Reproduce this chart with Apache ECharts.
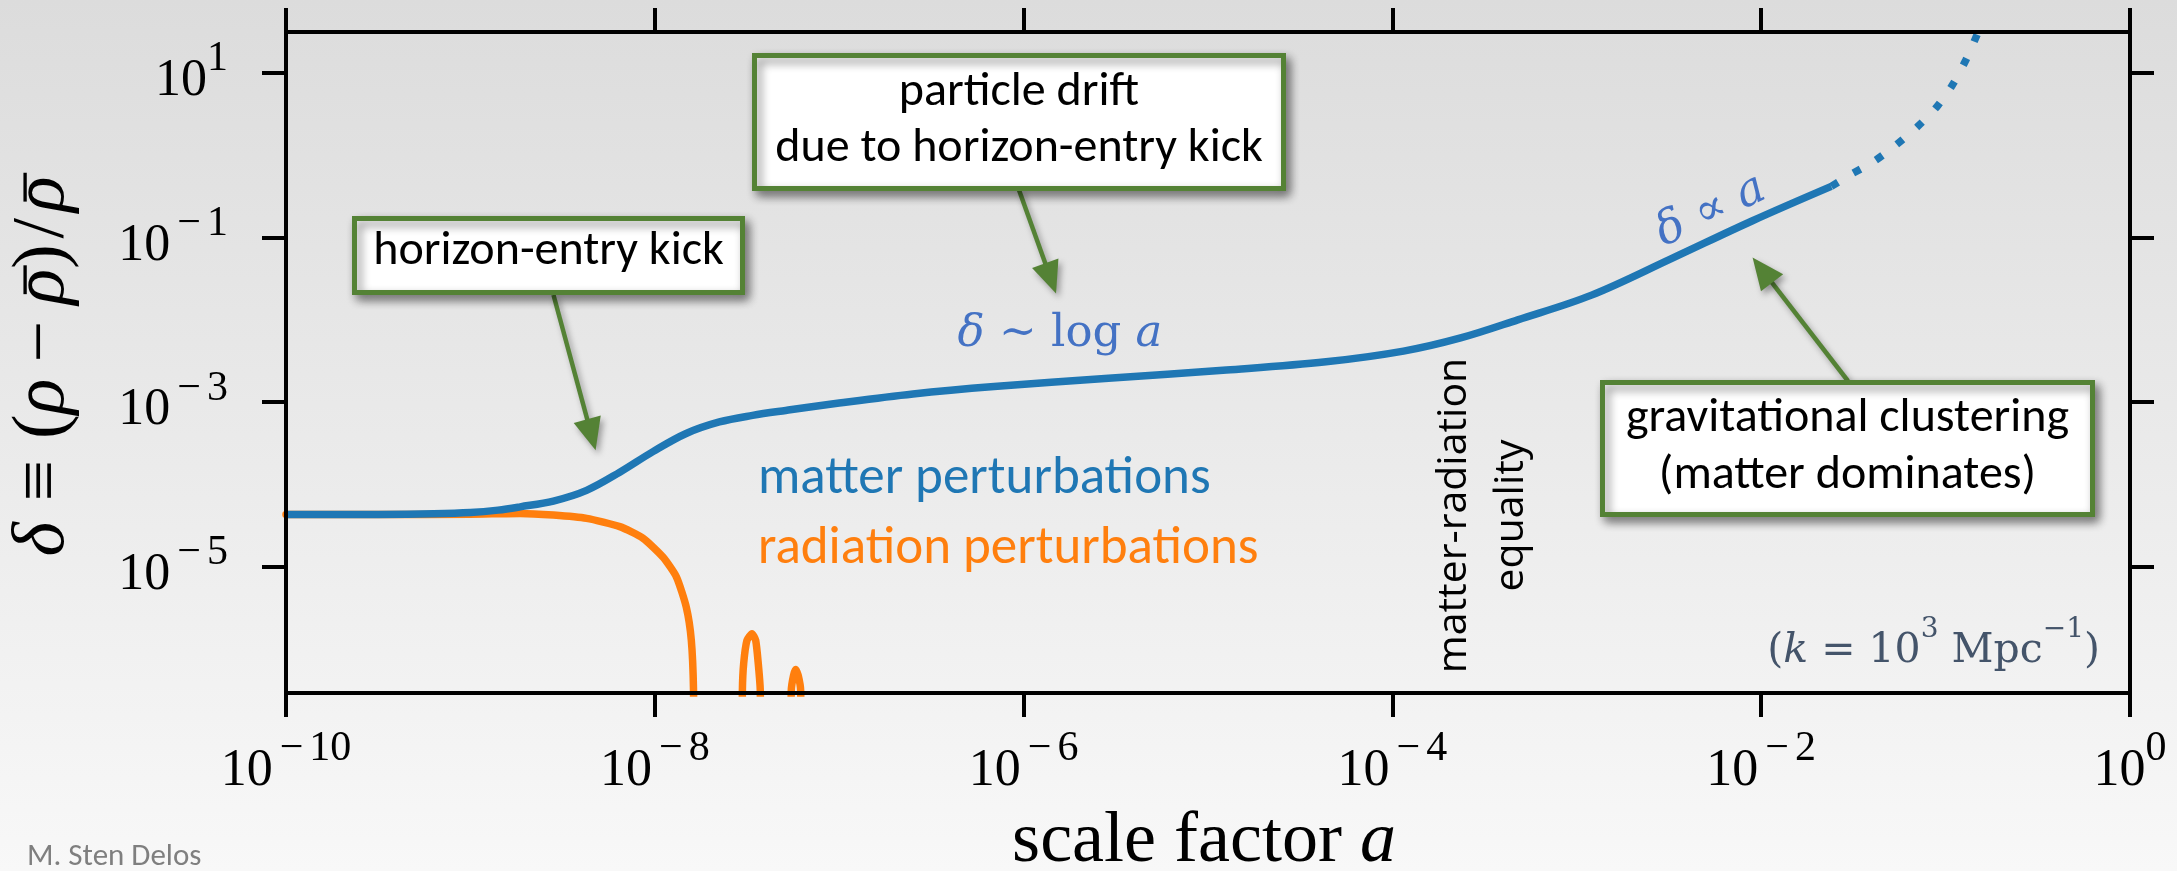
<!DOCTYPE html>
<html>
<head>
<meta charset="utf-8">
<script src="https://cdn.jsdelivr.net/npm/echarts@6/dist/echarts.min.js"></script>
<style>
  html, body { margin: 0; padding: 0; background: #e9e9e9; }
  #chart { width: 2177px; height: 871px; }
</style>
</head>
<body>
<div id="chart"></div>
<script>
// Density contrast of a single Fourier mode (k = 10^3 Mpc^-1) versus scale factor.
// Values are stored as base-10 exponents: log10(a) and log10(delta).

// matter perturbation, computed part (solid)
const matterLogA = [-10.0, -9.5, -9.2, -9.0, -8.85, -8.73, -8.55, -8.37, -8.19, -8.01, -7.83, -7.65,
  -7.47, -7.29, -7.0, -6.6, -6.16, -5.54, -4.9, -4.36, -3.94, -3.63, -3.32, -2.92, -2.49, -2.05, -1.62];
const matterLogDelta = [-4.363, -4.362, -4.355, -4.34, -4.31, -4.27, -4.20, -4.07, -3.85, -3.60, -3.38, -3.24,
  -3.16, -3.10, -3.01, -2.90, -2.81, -2.71, -2.61, -2.51, -2.38, -2.22, -2.00, -1.70, -1.26, -0.80, -0.38];

// matter perturbation, continued growth (dotted)
const matterLateLogA = [-1.62, -1.519, -1.392, -1.269, -1.153, -1.047, -0.963, -0.890, -0.830, -0.815];
const matterLateLogDelta = [-0.38, -0.242, -0.081, 0.122, 0.344, 0.587, 0.851, 1.154, 1.458, 1.55];

// radiation perturbation (only positive excursions are visible on the log axis)
const radiationLogA = [-10.0, -9.5, -9.0, -8.73, -8.55, -8.37, -8.19, -8.065, -7.956, -7.883, -7.829, -7.802, -7.79, -7.785,
  -7.53, -7.525, -7.518, -7.50, -7.473, -7.453, -7.439, -7.428, -7.423,
  -7.265, -7.26, -7.248, -7.236, -7.222, -7.209, -7.204];
const radiationLogDelta = [-4.363, -4.363, -4.36, -4.35, -4.37, -4.41, -4.51, -4.65, -4.88, -5.12, -5.49, -5.89, -6.5, -8,
  -8, -6.5, -6.17, -5.89, -5.81, -5.89, -6.17, -6.5, -8,
  -8, -6.5, -6.32, -6.245, -6.32, -6.5, -8];

// axes
const xTickExponents = [-10, -8, -6, -4, -2, 0];
const yTickExponents = [1, -1, -3, -5];
const xRangeExponents = [-10, 0];
const yRangeExponents = [-6.53, 1.494];

// annotation targets, in data exponents [log10 a, log10 delta]
const kickArrowTip = [-8.321, -3.582];
const driftArrowTip = [-5.824, -1.679];
const clusteringArrowTip = [-2.047, -1.242];

const pow10 = (e) => Math.pow(10, e);
const pairs = (xs, ys) => xs.map((x, i) => [pow10(x), pow10(ys[i])]);

const SERIF = '"Liberation Serif", "DejaVu Serif", serif';
const MATHFONT = '"DejaVu Serif", "Liberation Serif", serif';
const SANS = 'Carlito, Calibri, Lato, "Open Sans", sans-serif';
const GREEN = '#548235';
const BLUE = '#1f77b4';
const ORANGE = '#ff7f0e';
const MATH_BLUE = '#4472c4';
const CURVE_WIDTH = 7.5;

const tickRich = {
  b: { fontFamily: SERIF, fontSize: 52, color: '#000', lineHeight: 69, verticalAlign: 'bottom' },
  m: { fontFamily: SERIF, fontSize: 42, color: '#000', lineHeight: 40, verticalAlign: 'top', padding: [0, 6, 0, 7] },
  s: { fontFamily: SERIF, fontSize: 42, color: '#000', lineHeight: 40, verticalAlign: 'top' }
};
function powerLabel(value) {
  const e = Math.round(Math.log10(value));
  return '{b|10}' + (e < 0 ? '{m|\u2212}' : '') + '{s|' + Math.abs(e) + '}';
}

const frameLine = { show: true, onZero: false, lineStyle: { color: '#000', width: 4 } };
const frameTick = (vals) => ({ show: true, inside: false, length: 24, customValues: vals,
  lineStyle: { color: '#000', width: 4 } });

const xTicks = xTickExponents.map(pow10);
const yTicks = yTickExponents.map(pow10);

const chart = echarts.init(document.getElementById('chart'), null, { width: 2177, height: 871 });

const option = {
  animation: false,
  backgroundColor: {
    type: 'linear', x: 0, y: 0, x2: 0, y2: 1,
    colorStops: [{ offset: 0, color: '#dcdcdc' }, { offset: 1, color: '#f8f8f8' }]
  },
  grid: { left: 286, right: 47, top: 32, bottom: 178, containLabel: false },
  xAxis: [
    {
      type: 'log', logBase: 10, position: 'bottom', z: 10,
      min: pow10(xRangeExponents[0]), max: pow10(xRangeExponents[1]),
      axisLine: frameLine, axisTick: frameTick(xTicks),
      minorTick: { show: false }, splitLine: { show: false },
      axisLabel: { customValues: xTicks, margin: 35, formatter: powerLabel, rich: tickRich }
    },
    {
      type: 'log', logBase: 10, position: 'top', z: 10,
      min: pow10(xRangeExponents[0]), max: pow10(xRangeExponents[1]),
      axisLine: frameLine, axisTick: frameTick(xTicks),
      minorTick: { show: false }, splitLine: { show: false }, axisLabel: { show: false }
    }
  ],
  yAxis: [
    {
      type: 'log', logBase: 10, position: 'left', z: 10,
      min: pow10(yRangeExponents[0]), max: pow10(yRangeExponents[1]),
      axisLine: frameLine, axisTick: frameTick(yTicks),
      minorTick: { show: false }, splitLine: { show: false },
      axisLabel: { customValues: yTicks, margin: 58, formatter: powerLabel, rich: tickRich }
    },
    {
      type: 'log', logBase: 10, position: 'right', z: 10,
      min: pow10(yRangeExponents[0]), max: pow10(yRangeExponents[1]),
      axisLine: frameLine, axisTick: frameTick(yTicks),
      minorTick: { show: false }, splitLine: { show: false }, axisLabel: { show: false }
    }
  ],
  series: [
    {
      name: 'radiation perturbations', type: 'line', xAxisIndex: 0, yAxisIndex: 0,
      data: pairs(radiationLogA, radiationLogDelta),
      showSymbol: false, smooth: 0.2, clip: true,
      lineStyle: { color: ORANGE, width: CURVE_WIDTH, cap: 'round', join: 'round' }
    },
    {
      name: 'matter perturbations', type: 'line', xAxisIndex: 0, yAxisIndex: 0,
      data: pairs(matterLogA, matterLogDelta),
      showSymbol: false, smooth: 0.35, clip: true,
      lineStyle: { color: BLUE, width: CURVE_WIDTH, cap: 'butt', join: 'round' }
    },
    {
      name: 'matter perturbations (continued)', type: 'line', xAxisIndex: 0, yAxisIndex: 0,
      data: pairs(matterLateLogA, matterLateLogDelta),
      showSymbol: false, smooth: 0.3, clip: true,
      lineStyle: { color: BLUE, width: CURVE_WIDTH, type: [8, 18], cap: 'butt' }
    }
  ]
};
chart.setOption(option);

const toPx = (p) => chart.convertToPixel({ seriesIndex: 1 }, [pow10(p[0]), pow10(p[1])]);
const f = (size, family, style) => (style ? style + ' ' : '') + size + 'px ' + family;

const measureCtx = document.createElement('canvas').getContext('2d');
const measure = (t, font) => { measureCtx.font = font; return measureCtx.measureText(t).width; };

// a single line of math laid out token by token, with TeX-like spacing and overbars
function mathRow(cx, cy, rotation, size, items, color) {
  let x = 0;
  const kids = [];
  items.forEach((it) => {
    const font = f(size, SERIF, it.it ? 'italic' : '');
    x += (it.padL || 0) * size;
    const w = measure(it.t, font);
    kids.push({ type: 'text', z: 30, x: x, y: 0,
      style: { text: it.t, font: font, fill: color, align: 'left', verticalAlign: 'middle' } });
    if (it.bar) {
      kids.push({ type: 'line', z: 30,
        shape: { x1: x + 0.14 * size, y1: -0.25 * size, x2: x + w + 0.05 * size, y2: -0.25 * size },
        style: { stroke: color, lineWidth: 0.045 * size } });
    }
    x += w + (it.padR || 0) * size;
  });
  kids.forEach((k) => {
    if (k.type === 'text') k.x -= x / 2;
    else { k.shape.x1 -= x / 2; k.shape.x2 -= x / 2; }
  });
  return { type: 'group', x: cx, y: cy, rotation: rotation, children: kids };
}

const boxShadow = { shadowBlur: 10, shadowColor: 'rgba(0,0,0,0.45)', shadowOffsetX: 4, shadowOffsetY: 5 };
function box(x, y, w, h) {
  return { type: 'rect', z: 20, shape: { x: x, y: y, width: w, height: h },
    style: Object.assign({ fill: '#ffffff', stroke: GREEN, lineWidth: 5 }, boxShadow) };
}
function boxText(x, y, text, lineHeight) {
  return { type: 'text', x: x, y: y, z: 30,
    style: { text: text, font: f(48, SANS), fill: '#000', align: 'center', verticalAlign: 'middle',
      lineHeight: lineHeight || 56 } };
}
function arrow(x1, y1, tip) {
  const [x2, y2] = tip;
  const dx = x2 - x1, dy = y2 - y1, L = Math.hypot(dx, dy);
  const ux = dx / L, uy = dy / L, hl = 32, hw = 14;
  const bx = x2 - ux * hl, by = y2 - uy * hl;
  const sh = { shadowBlur: 6, shadowColor: 'rgba(0,0,0,0.35)', shadowOffsetX: 3, shadowOffsetY: 4 };
  return [
    { type: 'line', z: 15, shape: { x1: x1, y1: y1, x2: bx + ux * 4, y2: by + uy * 4 },
      style: Object.assign({ stroke: GREEN, lineWidth: 4.5 }, sh) },
    { type: 'polygon', z: 15, shape: { points: [[x2, y2], [bx - uy * hw, by + ux * hw], [bx + uy * hw, by - ux * hw]] },
      style: Object.assign({ fill: GREEN }, sh) }
  ];
}

const mathRich = (size, color) => ({
  i: { font: f(size, MATHFONT, 'italic'), fill: color },
  r: { font: f(size, MATHFONT), fill: color }
});

const elements = [
  // arrows from the annotation boxes to the curve
  ...arrow(553.5, 295, toPx(kickArrowTip)),
  ...arrow(1019, 190, toPx(driftArrowTip)),
  ...arrow(1848, 381, toPx(clusteringArrowTip)),

  // annotation boxes
  box(354.5, 218.5, 388, 74),
  boxText(548.5, 252, 'horizon-entry kick'),
  box(754.5, 55.5, 529, 133),
  boxText(1019, 121, 'particle drift\ndue to horizon-entry kick', 55.5),
  box(1602.5, 382.5, 490, 132),
  boxText(1847.5, 447.5, 'gravitational clustering\n(matter dominates)', 57),

  // series names
  { type: 'text', x: 758, y: 480, z: 30, style: { text: 'matter perturbations', font: f(53, SANS), fill: BLUE,
    align: 'left', verticalAlign: 'middle' } },
  { type: 'text', x: 758, y: 550, z: 30, style: { text: 'radiation perturbations', font: f(53, SANS), fill: ORANGE,
    align: 'left', verticalAlign: 'middle' } },

  // growth-law labels
  { type: 'text', x: 1060, y: 334, z: 30, style: {
    text: '{i|\u03b4}{r| ~ log }{i|a}', align: 'center', verticalAlign: 'middle', rich: mathRich(45, MATH_BLUE) } },
  { type: 'text', x: 1711, y: 211, z: 30, rotation: 0.44, style: {
    text: '{i|\u03b4}{r| \u221d }{i|a}', align: 'center', verticalAlign: 'middle', rich: mathRich(46, MATH_BLUE) } },

  // equality marker
  { type: 'text', x: 1482.5, y: 515.5, z: 30, rotation: Math.PI / 2, style: {
    text: 'matter-radiation\nequality', font: f(41, '"Open Sans", "DejaVu Sans", sans-serif'), fill: '#000',
    align: 'center', verticalAlign: 'middle', lineHeight: 57 } },

  // wavenumber
  { type: 'text', x: 2100, y: 644, z: 30, style: {
    text: '{r|(}{i|k}{r| = 10}{s|3}{r| Mpc}{s|\u22121}{r|)}', align: 'right', verticalAlign: 'middle',
    rich: {
      r: { font: f(41, MATHFONT), fill: '#44546a', lineHeight: 56, verticalAlign: 'bottom' },
      i: { font: f(41, MATHFONT, 'italic'), fill: '#44546a', lineHeight: 56, verticalAlign: 'bottom' },
      s: { font: f(28, MATHFONT), fill: '#44546a', lineHeight: 46, verticalAlign: 'top' }
    } } },

  // axis titles
  { type: 'text', x: 1204, y: 842, z: 30, style: {
    text: '{r|scale factor }{i|a}', align: 'center', verticalAlign: 'middle',
    rich: { r: { font: f(72, SERIF), fill: '#000' }, i: { font: f(72, SERIF, 'italic'), fill: '#000' } } } },
  mathRow(43.6, 366.5, Math.PI / 2, 74, [
    { t: '\u03b4', it: true, padR: 0.28 },
    { t: '\u2261', padR: 0.28 },
    { t: '(' },
    { t: '\u03c1', it: true, padR: 0.22 },
    { t: '\u2212', padR: 0.22 },
    { t: '\u03c1', it: true, bar: true },
    { t: ')' },
    { t: '/', padL: 0.08, padR: 0.08 },
    { t: '\u03c1', it: true, bar: true }
  ], '#000'),

  // credit
  { type: 'text', x: 27, y: 857.5, z: 30, style: { text: 'M. Sten Delos', font: f(31, SANS), fill: '#7f7f7f',
    align: 'left', verticalAlign: 'middle' } }
];

chart.setOption({ graphic: { elements: elements } });
</script>
</body>
</html>
